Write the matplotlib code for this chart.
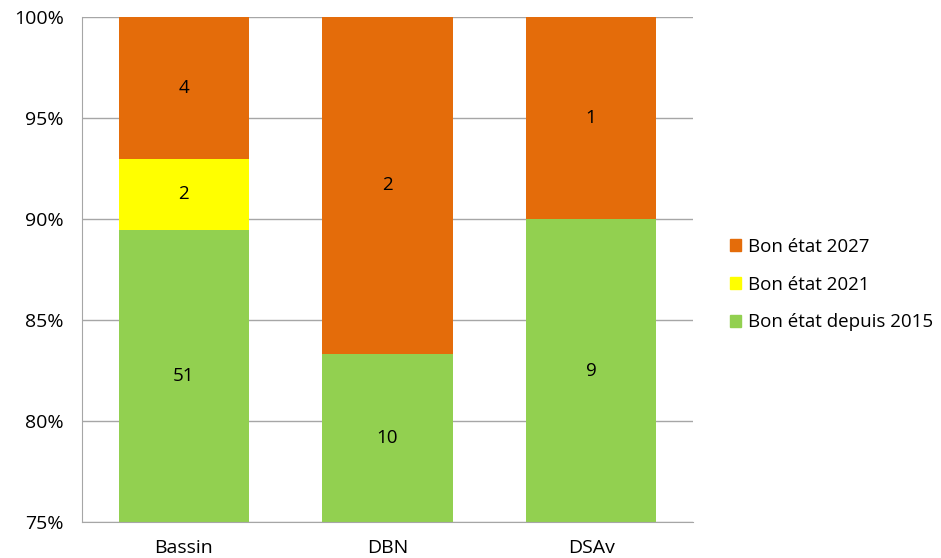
import numpy as np
import matplotlib.pyplot as plt
from matplotlib.ticker import FuncFormatter
from matplotlib.patches import Patch

plt.rcParams['font.family'] = ['Open Sans', 'DejaVu Sans']

categories = ['Bassin', 'DBN', 'DSAv']
series_names = ['Bon état depuis 2015', 'Bon état 2021', 'Bon état 2027']
bon_2015 = [51, 10, 9]
bon_2021 = [2, 0, 0]
bon_2027 = [4, 2, 1]
colors = ['#92D050', '#FFFF00', '#E46C0A']

counts = np.array([bon_2015, bon_2021, bon_2027], dtype=float)
totals = counts.sum(axis=0)
shares = counts / totals

fig = plt.figure(figsize=(9.41, 5.58), dpi=100)
ax = fig.add_axes([0.0871, 0.0645, 0.6493, 0.905])

x = np.arange(len(categories))
bottom = np.zeros(len(categories))
for name, vals, share, col in zip(series_names, counts, shares, colors):
    ax.bar(x, share, bottom=bottom, width=0.64, color=col, label=name, zorder=2)
    for i in range(len(categories)):
        if vals[i] > 0:
            lo = max(bottom[i], 0.75)
            hi = bottom[i] + share[i]
            ax.text(x[i], (lo + hi) / 2, f'{int(vals[i])}', ha='center', va='center',
                    fontsize=13.5, color='black', zorder=3)
    bottom += share

ax.set_xlim(-0.5, len(categories) - 0.5)
ax.set_ylim(0.75, 1.0)
ax.set_yticks(np.arange(0.75, 1.001, 0.05))
ax.yaxis.set_major_formatter(FuncFormatter(lambda v, p: f'{v*100:.0f}%'))
ax.set_xticks(x)
ax.set_xticklabels(categories)
ax.tick_params(length=0, labelsize=14, colors='black')
ax.tick_params(axis='y', pad=13)
ax.tick_params(axis='x', pad=12)

ax.grid(axis='y', color='#A6A6A6', linewidth=1, zorder=0)
ax.set_axisbelow(True)
for s in ['top', 'right']:
    ax.spines[s].set_visible(False)
ax.spines['left'].set_color('#A6A6A6')
ax.spines['bottom'].set_color('#A6A6A6')

handles = [Patch(color=colors[2]), Patch(color=colors[1]), Patch(color=colors[0])]
labels = [series_names[2], series_names[1], series_names[0]]
fig.legend(handles, labels, loc='center left', bbox_to_anchor=(0.766, 0.49),
           frameon=False, fontsize=13.5, handlelength=0.6, handleheight=0.6,
           handletextpad=0.35, labelspacing=1.05, borderpad=0)

fig.savefig('out.png', dpi=100)
